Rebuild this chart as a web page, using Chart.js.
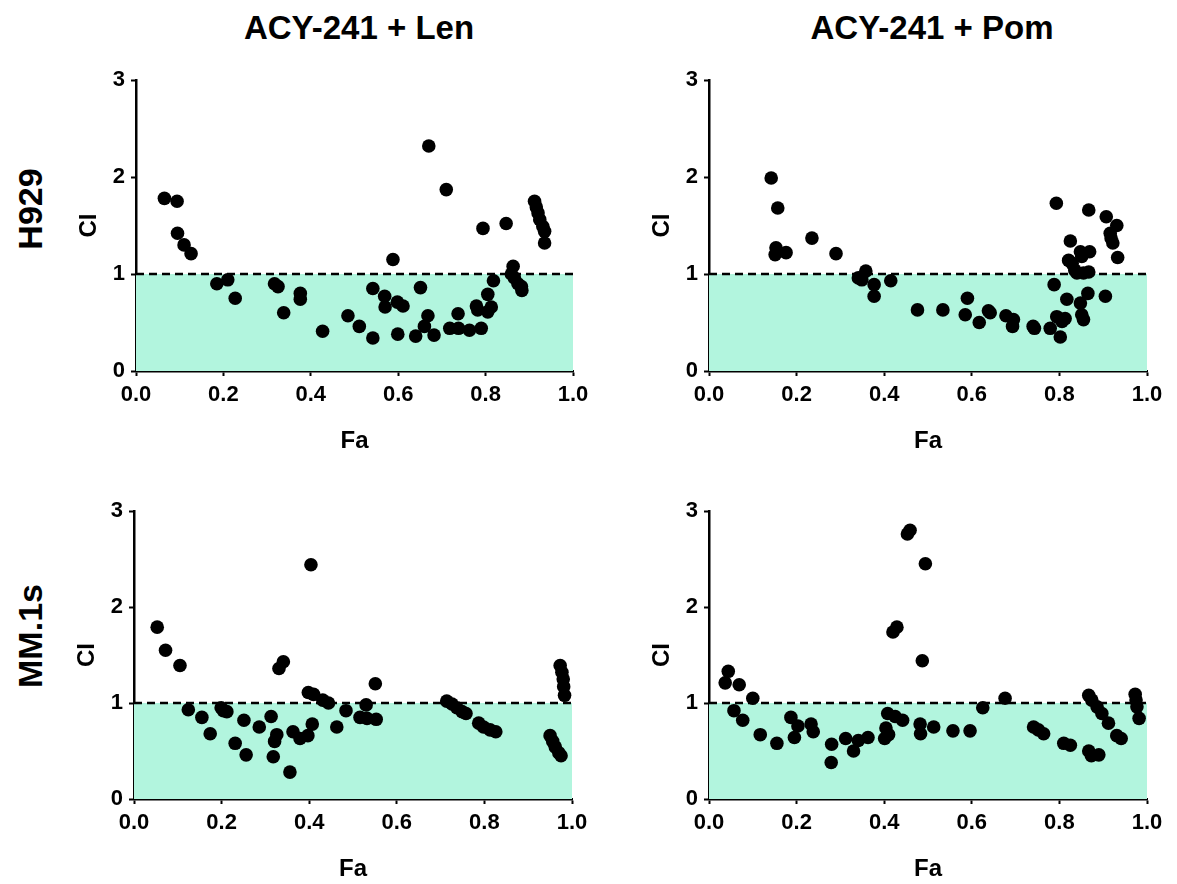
<!DOCTYPE html>
<html>
<head>
<meta charset="utf-8">
<script src="https://cdn.jsdelivr.net/npm/chart.js@4/dist/chart.umd.min.js"></script>
<style>
  html, body { margin: 0; padding: 0; background: #fff; overflow: hidden; }
  body { width: 1177px; height: 884px; position: relative; font-family: "Liberation Sans", Arial, sans-serif; }
  canvas { position: absolute; }
  .title { position: absolute; font-weight: bold; font-size: 33px; color: #000; white-space: nowrap; transform: translate(-50%, -50%); }
  .row { position: absolute; font-weight: bold; font-size: 34px; color: #000; white-space: nowrap; transform: translate(-50%, -50%) rotate(-90deg); }
</style>
</head>
<body>
<div class="title" style="left:359px; top:28px;">ACY-241 + Len</div>
<div class="title" style="left:932px; top:28px;">ACY-241 + Pom</div>
<div class="row" style="left:30px; top:209px;">H929</div>
<div class="row" style="left:30px; top:636px;">MM.1s</div>

<canvas id="c1" width="543" height="396" style="left:60px; top:60px;"></canvas>
<canvas id="c2" width="544" height="396" style="left:633px; top:60px;"></canvas>
<canvas id="c3" width="544" height="393" style="left:58px; top:491px;"></canvas>
<canvas id="c4" width="544" height="393" style="left:633px; top:491px;"></canvas>

<script>
// axis ticks
var xTicks = [0, 0.2, 0.4, 0.6, 0.8, 1.0]
var yTicks = [0, 1, 2, 3]
var ciLimit = 1

// H929, ACY-241 + Len
var lenH929Fa = [0.065, 0.094, 0.095, 0.11, 0.126, 0.185, 0.21, 0.227, 0.317, 0.325, 0.338, 0.376, 0.376,
  0.427, 0.485, 0.511, 0.542, 0.542, 0.569, 0.570, 0.588, 0.598, 0.611, 0.599, 0.640, 0.651, 0.668, 0.660,
  0.682, 0.670, 0.710, 0.718, 0.738, 0.737, 0.763, 0.790, 0.779, 0.782, 0.794, 0.805, 0.813, 0.805, 0.818,
  0.847, 0.863, 0.859, 0.866, 0.874, 0.882, 0.883, 0.912, 0.916, 0.920, 0.924, 0.931, 0.935, 0.935]
var lenH929Ci = [1.78, 1.75, 1.42, 1.30, 1.21, 0.90, 0.94, 0.75, 0.90, 0.87, 0.60, 0.80, 0.74,
  0.41, 0.57, 0.46, 0.34, 0.85, 0.77, 0.66, 1.15, 0.71, 0.67, 0.38, 0.36, 0.86, 0.57, 0.46,
  0.37, 2.32, 1.87, 0.44, 0.44, 0.59, 0.42, 0.44, 0.67, 0.63, 1.47, 0.61, 0.66, 0.79, 0.93,
  1.52, 1.08, 1.00, 0.96, 0.90, 0.87, 0.83, 1.75, 1.69, 1.63, 1.56, 1.49, 1.44, 1.32]

// H929, ACY-241 + Pom
var pomH929Fa = [0.142, 0.157, 0.153, 0.151, 0.176, 0.235, 0.290, 0.341, 0.349, 0.358, 0.377, 0.377, 0.415,
  0.476, 0.534, 0.590, 0.585, 0.617, 0.638, 0.642, 0.678, 0.695, 0.693, 0.740, 0.743, 0.779, 0.793, 0.788,
  0.794, 0.802, 0.806, 0.813, 0.817, 0.825, 0.821, 0.829, 0.835, 0.840, 0.848, 0.851, 0.855, 0.848, 0.855,
  0.851, 0.865, 0.867, 0.869, 0.867, 0.905, 0.907, 0.916, 0.918, 0.922, 0.931, 0.933]
var pomH929Ci = [1.99, 1.68, 1.27, 1.20, 1.22, 1.37, 1.21, 0.96, 0.94, 1.03, 0.89, 0.77, 0.93,
  0.63, 0.63, 0.75, 0.58, 0.50, 0.62, 0.60, 0.57, 0.53, 0.46, 0.46, 0.44, 0.44, 1.73, 0.89,
  0.56, 0.35, 0.51, 0.54, 0.74, 1.34, 1.14, 1.11, 1.04, 1.01, 1.23, 1.18, 1.01, 0.70, 0.53,
  0.58, 0.80, 1.66, 1.23, 1.02, 0.77, 1.59, 1.42, 1.37, 1.32, 1.50, 1.17]

// MM.1s, ACY-241 + Len
var lenMM1sFa = [0.053, 0.072, 0.105, 0.124, 0.155, 0.174, 0.199, 0.204, 0.212, 0.231, 0.251, 0.256, 0.286,
  0.313, 0.318, 0.321, 0.326, 0.331, 0.341, 0.356, 0.363, 0.379, 0.397, 0.407, 0.404, 0.398, 0.410, 0.431,
  0.444, 0.463, 0.484, 0.516, 0.530, 0.532, 0.553, 0.551, 0.714, 0.726, 0.737, 0.749, 0.758, 0.787, 0.798,
  0.813, 0.826, 0.950, 0.956, 0.962, 0.970, 0.975, 0.973, 0.977, 0.980, 0.981, 0.983]
var lenMM1sCi = [1.79, 1.55, 1.39, 0.93, 0.85, 0.68, 0.95, 0.92, 0.91, 0.58, 0.82, 0.46, 0.75,
  0.86, 0.44, 0.60, 0.67, 1.36, 1.43, 0.28, 0.70, 0.63, 0.66, 0.78, 2.44, 1.11, 1.09, 1.03,
  1.00, 0.75, 0.92, 0.85, 0.98, 0.84, 0.83, 1.20, 1.02, 0.99, 0.95, 0.91, 0.89, 0.79, 0.75,
  0.72, 0.70, 0.66, 0.60, 0.54, 0.48, 0.45, 1.39, 1.32, 1.25, 1.17, 1.08]

// MM.1s, ACY-241 + Pom
var pomMM1sFa = [0.037, 0.044, 0.069, 0.057, 0.077, 0.100, 0.117, 0.155, 0.187, 0.195, 0.203, 0.233, 0.238,
  0.280, 0.279, 0.312, 0.330, 0.341, 0.363, 0.401, 0.404, 0.410, 0.408, 0.425, 0.442, 0.420, 0.429, 0.453,
  0.459, 0.494, 0.487, 0.482, 0.483, 0.513, 0.557, 0.596, 0.625, 0.676, 0.741, 0.752, 0.764, 0.810, 0.825,
  0.867, 0.874, 0.886, 0.897, 0.912, 0.931, 0.941, 0.867, 0.873, 0.890, 0.973, 0.975, 0.977, 0.982]
var pomMM1sCi = [1.21, 1.33, 1.19, 0.92, 0.82, 1.05, 0.67, 0.58, 0.85, 0.64, 0.76, 0.78, 0.70,
  0.57, 0.38, 0.63, 0.50, 0.61, 0.64, 0.63, 0.74, 0.67, 0.89, 0.86, 0.82, 1.74, 1.79, 2.76,
  2.80, 2.45, 1.44, 0.78, 0.68, 0.75, 0.71, 0.71, 0.95, 1.05, 0.75, 0.72, 0.68, 0.58, 0.56,
  1.08, 1.03, 0.96, 0.89, 0.79, 0.66, 0.63, 0.50, 0.45, 0.46, 1.09, 1.03, 0.96, 0.84]

var FONT = '"Liberation Sans", Arial, sans-serif'

function toPoints(fa, ci){
  return fa.map((f, i) => ({x: f, y: ci[i]}))
}

function makePanel(id, fa, ci){
  var ctx = document.getElementById(id).getContext('2d')
  var axisBase = {
    border: {display: true, color: '#000', width: 2.5},
    grid: {display: true, drawOnChartArea: false, drawTicks: true, tickLength: 5, tickColor: '#000', tickWidth: 2}
  }
  return new Chart(ctx, {
    type: 'scatter',
    data: {
      datasets: [
        {
          label: 'CI',
          data: toPoints(fa, ci),
          backgroundColor: '#000',
          borderWidth: 0,
          pointRadius: 6.8,
          pointHoverRadius: 6.8
        },
        {
          // additivity line CI = 1, shaded below
          type: 'line',
          label: 'limit',
          data: [{x: xTicks[0], y: ciLimit}, {x: xTicks[xTicks.length - 1], y: ciLimit}],
          borderColor: '#000',
          borderWidth: 2.6,
          borderDash: [8, 5],
          pointRadius: 0,
          fill: 'origin',
          backgroundColor: 'rgb(178,245,222)',
          order: 1
        }
      ]
    },
    options: {
      responsive: false,
      animation: false,
      devicePixelRatio: 1,
      layout: {padding: {left: 0, top: 20, right: 30, bottom: 0}},
      plugins: {legend: {display: false}, tooltip: {enabled: false}},
      scales: {
        x: Object.assign({}, axisBase, {
          type: 'linear',
          min: 0, max: 1,
          afterFit: (s) => { s.height = 85 },
          afterBuildTicks: (s) => { s.ticks = xTicks.map(v => ({value: v})) },
          ticks: {
            padding: 6,
            color: '#000',
            font: {family: FONT, size: 22, weight: 'bold'},
            callback: (v) => Number(v).toFixed(1)
          },
          title: {display: true, text: 'Fa', color: '#000', padding: {top: 0, bottom: 0}, font: {family: FONT, size: 24, weight: 'bold'}}
        }),
        y: Object.assign({}, axisBase, {
          type: 'linear',
          min: 0, max: 3,
          afterFit: (s) => { s.width = 76 },
          afterBuildTicks: (s) => { s.ticks = yTicks.map(v => ({value: v})) },
          ticks: {
            padding: 6,
            color: '#000',
            font: {family: FONT, size: 22, weight: 'bold'}
          },
          title: {display: true, text: 'CI', color: '#000', padding: {top: 15, bottom: 0}, font: {family: FONT, size: 24, weight: 'bold'}}
        })
      }
    }
  })
}

makePanel('c1', lenH929Fa, lenH929Ci)
makePanel('c2', pomH929Fa, pomH929Ci)
makePanel('c3', lenMM1sFa, lenMM1sCi)
makePanel('c4', pomMM1sFa, pomMM1sCi)
</script>
</body>
</html>
